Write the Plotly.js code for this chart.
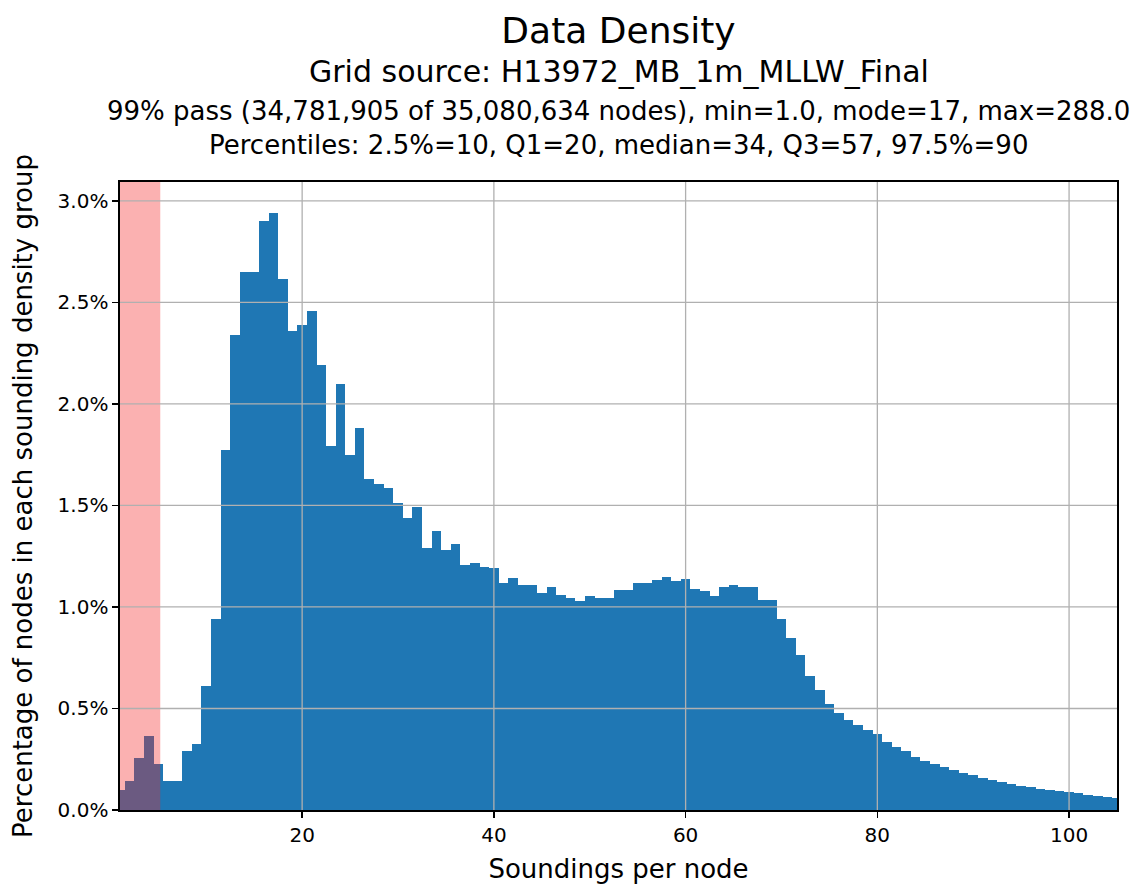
<!DOCTYPE html>
<html>
<head>
<meta charset="utf-8">
<script src="https://cdn.plot.ly/plotly-3.0.1.min.js"></script>
<style>html,body{margin:0;padding:0;background:#fff;}#chart{width:1146px;height:886px;}</style>
</head>
<body>
<div id="chart"></div>
<script>
// Soundings per node (histogram bins, width 1)
const soundings = [1,2,3,4,5,6,7,8,9,10,11,12,13,14,15,16,17,18,19,20,
  21,22,23,24,25,26,27,28,29,30,31,32,33,34,35,36,37,38,39,40,
  41,42,43,44,45,46,47,48,49,50,51,52,53,54,55,56,57,58,59,60,
  61,62,63,64,65,66,67,68,69,70,71,72,73,74,75,76,77,78,79,80,
  81,82,83,84,85,86,87,88,89,90,91,92,93,94,95,96,97,98,99,100,
  101,102,103,104,105];
// Percentage of nodes in each sounding density group
const pctNodes = [0.10,0.143,0.258,0.364,0.225,0.143,0.143,0.29,0.324,0.61,
  0.94,1.774,2.34,2.65,2.65,2.90,2.94,2.615,2.36,2.39,
  2.46,2.19,1.795,2.10,1.75,1.88,1.63,1.605,1.585,1.51,
  1.44,1.49,1.29,1.375,1.28,1.31,1.205,1.217,1.195,1.19,
  1.116,1.143,1.106,1.106,1.067,1.098,1.057,1.046,1.03,1.054,
  1.042,1.046,1.083,1.083,1.119,1.119,1.132,1.148,1.13,1.138,
  1.09,1.078,1.054,1.10,1.11,1.10,1.10,1.033,1.033,0.943,
  0.849,0.762,0.658,0.592,0.52,0.477,0.444,0.421,0.396,0.372,
  0.334,0.312,0.289,0.263,0.242,0.226,0.212,0.196,0.183,0.171,
  0.159,0.147,0.137,0.129,0.12,0.112,0.104,0.098,0.092,0.087,
  0.082,0.076,0.071,0.066,0.061];
const xTicks = [20,40,60,80,100];
const yTicks = [0,0.5,1.0,1.5,2.0,2.5,3.0];
const yTickLabels = ['0.0%','0.5%','1.0%','1.5%','2.0%','2.5%','3.0%'];
const xRange = [1,105];
const yRange = [0,3.093];
const failRange = [1,5.2];   // highlighted low-density region

const titleText = 'Data Density';
const subtitle1 = 'Grid source: H13972_MB_1m_MLLW_Final';
const subtitle2 = '99% pass (34,781,905 of 35,080,634 nodes), min=1.0, mode=17, max=288.0';
const subtitle3 = 'Percentiles: 2.5%=10, Q1=20, median=34, Q3=57, 97.5%=90';
const xLabel = 'Soundings per node';
const yLabel = 'Percentage of nodes in each sounding density group';

const FONT = 'DejaVu Sans, Liberation Sans, sans-serif';
const gridColor = '#b0b0b0';

const trace = {
  type: 'bar',
  x: soundings,
  y: pctNodes,
  width: 1,
  marker: {color: '#1f77b4', line: {width: 0}},
  hoverinfo: 'skip'
};

const shapes = [];
shapes.push({type:'rect', xref:'x', yref:'paper', x0:failRange[0], x1:failRange[1], y0:0, y1:1,
  fillcolor:'rgba(245,40,40,0.36)', line:{width:0}, layer:'above'});
xTicks.forEach(v => shapes.push({type:'line', xref:'x', yref:'paper', x0:v, x1:v, y0:0, y1:1,
  line:{color:gridColor, width:1.3}, layer:'above'}));
yTicks.filter(v => v > 0).forEach(v => shapes.push({type:'line', xref:'paper', yref:'y', x0:0, x1:1, y0:v, y1:v,
  line:{color:gridColor, width:1.3}, layer:'above'}));

const layout = {
  width: 1146, height: 886,
  margin: {l:120, r:29, t:182, b:76},
  paper_bgcolor: '#ffffff', plot_bgcolor: '#ffffff',
  font: {family: FONT, color: '#000'},
  showlegend: false,
  bargap: 0,
  title: {text: titleText, font:{family:FONT, size:36, color:'#000'},
    x: 0.5, xref:'paper', xanchor:'center', y: 1 - 30/886, yref:'container', yanchor:'middle'},
  annotations: [
    {text: subtitle1, xref:'paper', yref:'paper', x:0.5, y:(810-71)/628, xanchor:'center', yanchor:'middle',
     showarrow:false, font:{family:FONT, size:30, color:'#000'}},
    {text: subtitle2, xref:'paper', yref:'paper', x:0.5, y:(810-111)/628, xanchor:'center', yanchor:'middle',
     showarrow:false, font:{family:FONT, size:26, color:'#000'}},
    {text: subtitle3, xref:'paper', yref:'paper', x:0.5, y:(810-145)/628, xanchor:'center', yanchor:'middle',
     showarrow:false, font:{family:FONT, size:26, color:'#000'}}
  ],
  xaxis: {
    range: xRange, tickvals: xTicks, ticktext: xTicks.map(String),
    ticks:'outside', ticklen:6, tickwidth:1.5, tickcolor:'#000',
    showline:true, mirror:true, linecolor:'#000', linewidth:1.6,
    showgrid:false, zeroline:false,
    tickfont:{family:FONT, size:20, color:'#000'},
    title:{text:xLabel, font:{family:FONT, size:26, color:'#000'}, standoff:14}
  },
  yaxis: {
    range: yRange, tickvals: yTicks, ticktext: yTickLabels,
    ticks:'outside', ticklen:6, tickwidth:1.5, tickcolor:'#000',
    showline:true, mirror:true, linecolor:'#000', linewidth:1.6,
    showgrid:false, zeroline:false,
    tickfont:{family:FONT, size:20, color:'#000'},
    title:{text:yLabel, font:{family:FONT, size:26, color:'#000'}, standoff:17}
  },
  shapes: shapes
};

Plotly.newPlot('chart', [trace], layout, {staticPlot:true, displayModeBar:false});
</script>
</body>
</html>
